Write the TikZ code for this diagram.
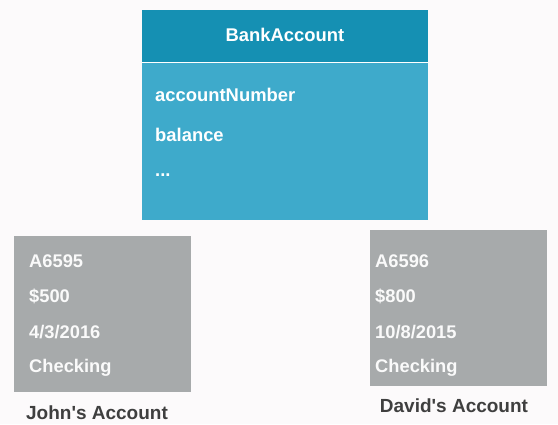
\documentclass[tikz,border=0pt]{standalone}
\usepackage{fontspec}
\setmainfont{Liberation Sans}
\definecolor{bgc}{HTML}{FCFAFB}
\definecolor{hdr}{HTML}{1590B3}
\definecolor{bdy}{HTML}{3EAACB}
\definecolor{gry}{HTML}{A7AAAB}
\definecolor{lbl}{HTML}{3F3F3F}
\begin{document}
\begin{tikzpicture}[x=1pt,y=-1pt,
  wtxt/.style={text=white, font=\bfseries\fontsize{18.4}{20}\selectfont, anchor=base west, inner sep=0pt},
  gtxt/.style={text=white!96!gray, font=\bfseries\fontsize{18.3}{20}\selectfont, anchor=base west, inner sep=0pt},
  ltxt/.style={text=lbl, font=\bfseries\fontsize{19}{21}\selectfont, anchor=base, inner sep=0pt}]
\fill[bgc] (0,0) rectangle (558,424);
\useasboundingbox (0,0) rectangle (558,424);
% class box
\fill[hdr] (142,10) rectangle (428,62);
\fill[bdy] (142,63) rectangle (428,220);
\draw[white, line width=0.8pt] (142,62.5) -- (428,62.5);
\node[wtxt, anchor=base] (title) at (285,41) {BankAccount};
\node[wtxt] (f1) at (155,101) {accountNumber};
\node[wtxt] (f2) at (155,141) {balance};
\node[wtxt] (f3) at (155,176) {...};
% John
\fill[gry] (14,236) rectangle (191,392);
\node[gtxt] (j1) at (29,267) {A6595};
\node[gtxt] (j2) at (29,302) {\$500};
\node[gtxt] (j3) at (29,338) {4/3/2016};
\node[gtxt] (j4) at (29,372) {Checking};
\node[ltxt] (jl) at (97,419) {John\textquotesingle s Account};
% David
\fill[gry] (370,230) rectangle (547,386);
\node[gtxt] (d1) at (375,267) {A6596};
\node[gtxt] (d2) at (375,302) {\$800};
\node[gtxt] (d3) at (375,338) {10/8/2015};
\node[gtxt] (d4) at (375,372) {Checking};
\node[ltxt] (dl) at (454,412) {David\textquotesingle s Account};
\end{tikzpicture}
\end{document}
